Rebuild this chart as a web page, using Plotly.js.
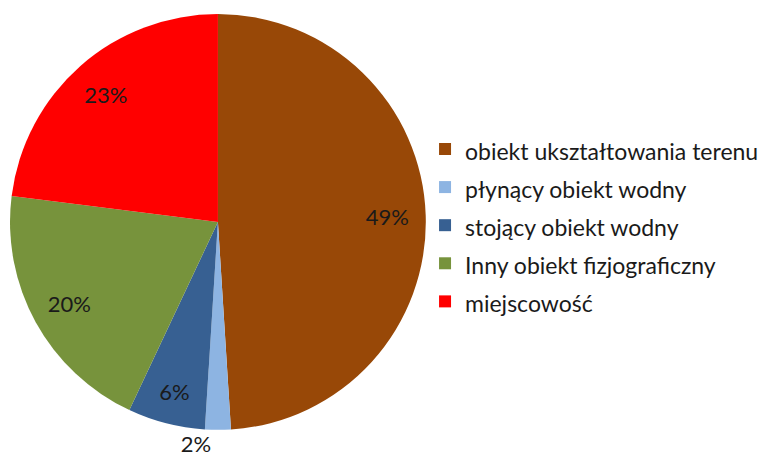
<!DOCTYPE html>
<html>
<head>
<meta charset="utf-8">
<script src="https://cdn.plot.ly/plotly-3.0.1.min.js"></script>
<style>html,body{margin:0;padding:0;background:#fff;}#chart{width:770px;height:461px;}</style>
</head>
<body>
<div id="chart"></div>
<script>
const categories = ["obiekt ukształtowania terenu", "płynący obiekt wodny", "stojący obiekt wodny", "Inny obiekt fizjograficzny", "miejscowość"];
const values = [49, 2, 6, 20, 23];
const colors = ["#984807", "#8DB4E2", "#376092", "#77933C", "#FF0000"];
const outerTextPositions = ["none", "outside", "none", "none", "none"];
const innerTextPositions = ["inside", "none", "inside", "inside", "inside"];

const FONT = "Lato, 'Open Sans', sans-serif";
const pieDomain = {x: [0.013, 0.553], y: [0.067, 0.970]};
const legendLabels = categories.map(c => '<span style="font-size:23px">' + c + '</span>');

const data = [{
  type: "pie",
  labels: legendLabels,
  values: values,
  sort: false,
  direction: "clockwise",
  rotation: 0,
  marker: {colors: colors, line: {width: 0}},
  texttemplate: "%{percent:.0%}",
  textposition: outerTextPositions,
  textfont: {family: FONT, size: 22, color: "#1a1a1a"},
  outsidetextfont: {family: FONT, size: 22, color: "#1a1a1a"},
  domain: pieDomain,
  hoverinfo: "label+percent"
}, {
  type: "pie",
  labels: legendLabels,
  values: values,
  sort: false,
  direction: "clockwise",
  rotation: 0,
  hole: 0.63,
  showlegend: false,
  marker: {colors: categories.map(() => "rgba(0,0,0,0)"), line: {width: 0}},
  texttemplate: "%{percent:.0%}",
  textposition: innerTextPositions,
  insidetextorientation: "horizontal",
  textfont: {family: FONT, size: 22, color: "#1a1a1a"},
  domain: pieDomain,
  hoverinfo: "skip"
}];

const layout = {
  width: 770, height: 461,
  margin: {l: 0, r: 0, t: 0, b: 0},
  paper_bgcolor: "#fff",
  showlegend: true,
  legend: {
    x: 0.552, y: 0.729, xanchor: "left", yanchor: "top",
    font: {family: FONT, size: 27, color: "#1a1a1a"},
    bgcolor: "rgba(0,0,0,0)"
  }
};

Plotly.newPlot("chart", data, layout, {displayModeBar: false, staticPlot: true});
</script>
</body>
</html>
